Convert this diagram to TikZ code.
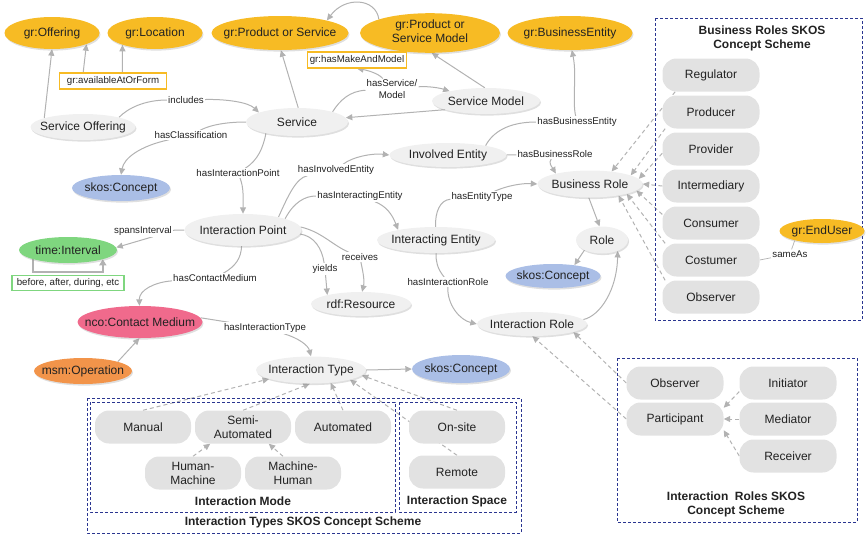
\documentclass[tikz,border=0pt]{standalone}
\usepackage{fontspec}
\setmainfont{Liberation Sans}
\usetikzlibrary{shapes.geometric,arrows.meta,shadows}
\definecolor{gold}{RGB}{247,187,36}
\definecolor{paleg}{RGB}{240,240,240}
\definecolor{pillg}{RGB}{226,226,226}
\definecolor{skosb}{RGB}{170,190,230}
\definecolor{timeg}{RGB}{127,214,127}
\definecolor{ncop}{RGB}{240,106,140}
\definecolor{msmo}{RGB}{242,148,74}
\definecolor{edgeg}{RGB}{178,178,178}
\definecolor{navy}{RGB}{42,53,144}
\definecolor{ink}{RGB}{34,34,34}
% centred text that does not widen an ellipse
\newcommand\nodetext[1]{\makebox[0pt]{#1}}
\pgfdeclarelayer{edges}
\pgfsetlayers{edges,main}
\tikzset{
  ell/.style={ellipse, inner sep=0pt, text=ink, font=\fontsize{12}{14}\selectfont,
    drop shadow={shadow xshift=1pt, shadow yshift=-1.6pt, opacity=0.25}},
  cls/.style={ell, fill=paleg},
  ext/.style={ell, fill=gold},
  pill/.style={rounded corners=14pt, fill=pillg, minimum width=96pt, minimum height=33pt,
    inner sep=0pt, align=center, text=ink, font=\fontsize{12}{14}\selectfont},
  elab/.style={fill=white, inner sep=1pt, text=ink, align=center, font=\fontsize{9.7}{11.5}\selectfont},
  tagbox/.style={draw=#1, line width=1.1pt, fill=white, inner ysep=2.5pt, inner xsep=2pt,
    text=ink, font=\fontsize{9.7}{11.5}\selectfont},
  link/.style={draw=edgeg, line width=1pt},
  arr/.style={link, -{Triangle[length=6.5pt,width=6pt]}},
  darr/.style={arr, dash pattern=on 4pt off 3pt},
  loopl/.style={draw=edgeg, line width=2pt, -{Triangle[length=6pt,width=7pt]}},
  thinl/.style={draw=edgeg, line width=0.7pt},
  scheme/.style={draw=navy, line width=0.8pt, dash pattern=on 3pt off 2pt},
  schemetitle/.style={text=ink, font=\fontsize{12}{14}\bfseries\selectfont, align=center},
}
\begin{document}
\begin{tikzpicture}[x=1pt,y=-1pt]
\useasboundingbox (0,0) rectangle (867,536);

% concept scheme frames
\draw[scheme] (655,18) rectangle (862,320);
\draw[scheme] (87,398) rectangle (521,533);
\draw[scheme] (90,402) rectangle (395,512);
\draw[scheme] (399,402) rectangle (516,512);
\draw[scheme] (617,358) rectangle (857,522);
\node[schemetitle] (t_br) at (762,38) {Business Roles SKOS\\Concept Scheme};
\node[schemetitle] (t_mode) at (243,501) {Interaction Mode};
\node[schemetitle] (t_space) at (457,501) {Interaction Space};
\node[schemetitle] (t_types) at (303,522) {Interaction Types SKOS Concept Scheme};
\node[schemetitle] (t_ir) at (736,504) {Interaction\ \ Roles SKOS\\Concept Scheme};

% external vocabulary classes
\node[ext, minimum width=95pt, minimum height=32pt] (offering) at (52,33) {\nodetext{gr:Offering}};
\node[ext, minimum width=95pt, minimum height=32pt] (location) at (155,33) {\nodetext{gr:Location}};
\node[ext, minimum width=137pt, minimum height=34pt] (pos) at (280,33) {\nodetext{gr:Product or Service}};
\node[ext, minimum width=140pt, minimum height=36pt] (posm) at (430,33)
  {\nodetext{\begin{tabular}{@{}c@{}}gr:Product or\\Service Model\end{tabular}}};
\node[ext, minimum width=125pt, minimum height=34pt] (bent) at (570,33) {\nodetext{gr:BusinessEntity}};
\node[ext, minimum width=85pt, minimum height=24pt] (enduser) at (822,231) {\nodetext{gr:EndUser}};

% property tags
\node[tagbox=gold, minimum width=107pt, minimum height=16pt] (avail) at (113,81) {gr:availableAtOrForm};
\node[tagbox=gold, minimum width=98pt, minimum height=16pt] (hmm) at (357,60) {gr:hasMakeAndModel};
\node[tagbox=timeg, minimum width=112pt, minimum height=15pt] (ba) at (68,283) {before, after, during, etc};

% core classes
\node[cls, minimum width=105pt, minimum height=26pt] (so) at (83,127) {\nodetext{Service Offering}};
\node[cls, minimum width=102pt, minimum height=28pt] (svc) at (297,122) {\nodetext{Service}};
\node[cls, minimum width=108pt, minimum height=26pt] (sm) at (486,101) {\nodetext{Service Model}};
\node[ell, fill=skosb, minimum width=98pt, minimum height=26pt] (skos1) at (121,188) {\nodetext{skos:Concept}};
\node[cls, minimum width=117pt, minimum height=24pt] (ie) at (448,155) {\nodetext{Involved Entity}};
\node[cls, minimum width=105pt, minimum height=27pt] (br) at (590,184) {\nodetext{Business Role}};
\node[cls, minimum width=52pt, minimum height=27pt] (role) at (602,240) {\nodetext{Role}};
\node[ell, fill=skosb, minimum width=95pt, minimum height=24pt] (skos2) at (553,276) {\nodetext{skos:Concept}};
\node[cls, minimum width=110pt, minimum height=24pt] (ir) at (532,324) {\nodetext{Interaction Role}};
\node[cls, minimum width=118pt, minimum height=26pt] (ient) at (436,240) {\nodetext{Interacting Entity}};
\node[cls, minimum width=117pt, minimum height=32pt] (ip) at (243,230) {\nodetext{Interaction Point}};
\node[cls, minimum width=100pt, minimum height=24pt] (rdf) at (361,304) {\nodetext{rdf:Resource}};
\node[ell, fill=timeg, minimum width=98pt, minimum height=26pt] (ti) at (68,250) {\nodetext{time:Interval}};
\node[ell, fill=ncop, minimum width=125pt, minimum height=32pt] (ncm) at (140,322) {\nodetext{nco:Contact Medium}};
\node[ell, fill=msmo, minimum width=98pt, minimum height=26pt] (msm) at (83,371) {\nodetext{msm:Operation}};
\node[cls, minimum width=110pt, minimum height=27pt] (it) at (311,370) {\nodetext{Interaction Type}};
\node[ell, fill=skosb, minimum width=98pt, minimum height=28pt] (skos3) at (461,369) {\nodetext{skos:Concept}};

% business roles scheme
\node[pill, minimum width=97pt] (reg) at (711,75) {Regulator};
\node[pill, minimum width=97pt] (prod) at (711,112) {Producer};
\node[pill, minimum width=97pt] (prov) at (711,149) {Provider};
\node[pill, minimum width=97pt] (inter) at (711,186) {Intermediary};
\node[pill, minimum width=97pt] (cons) at (711,223) {Consumer};
\node[pill, minimum width=97pt] (cost) at (711,260) {Costumer};
\node[pill, minimum width=97pt] (bobs) at (711,297) {Observer};

% interaction types scheme
\node[pill] (manual) at (143,427) {Manual};
\node[pill] (semi) at (243,427) {Semi-\\Automated};
\node[pill] (auto) at (343,427) {Automated};
\node[pill] (hm) at (193,473) {Human-\\Machine};
\node[pill] (mh) at (293,473) {Machine-\\Human};
\node[pill] (onsite) at (457,427) {On-site};
\node[pill] (remote) at (457,472) {Remote};

% interaction roles scheme
\node[pill, minimum width=97pt] (iobs) at (675,383) {Observer};
\node[pill, minimum width=97pt] (ipart) at (675,419) {Participant};
\node[pill, minimum width=97pt] (iinit) at (788,383) {Initiator};
\node[pill, minimum width=97pt] (imed) at (788,419) {Mediator};
\node[pill, minimum width=97pt] (irec) at (788,456) {Receiver};

% property labels
\node[elab] (l_incl) at (186,100) {includes};
\node[elab] (l_cls) at (191,135) {hasClassification};
\node[elab] (l_hip) at (238,173) {hasInteractionPoint};
\node[elab] (l_hsm) at (392,89) {hasService/\\Model};
\node[elab] (l_hbe) at (577,122) {hasBusinessEntity};
\node[elab] (l_hbr) at (555,154) {hasBusinessRole};
\node[elab] (l_hie) at (336,170) {hasInvolvedEntity};
\node[elab] (l_hient) at (360,196) {hasInteractingEntity};
\node[elab] (l_het) at (482,197) {hasEntityType};
\node[elab] (l_hir) at (448,282) {hasInteractionRole};
\node[elab] (l_rcv) at (360,257) {receives};
\node[elab] (l_yld) at (325,269) {yields};
\node[elab] (l_spi) at (143,231) {spansInterval};
\node[elab] (l_hcm) at (215,278) {hasContactMedium};
\node[elab] (l_hit) at (265,328) {hasInteractionType};
\node[elab] (l_same) at (790,254) {sameAs};

\begin{pgfonlayer}{edges}
% GoodRelations links
\draw[arr] (so.167) -- (offering.south);
\draw[arr] (avail.164) -- (offering.-18);
\draw[arr] (avail.42) -- (location.-160);
\draw[arr] (svc.85) -- (pos.-87);
\draw[arr] (posm.165) .. controls (376,-2) and (345,-4) .. (pos.15);
\draw[arr] (sm.95) -- (posm.-85);
\draw[arr] (sm.192) -- (svc.5);

% service properties
\draw[link] (so.15) .. controls (128,108) and (145,100) .. (l_incl);
\draw[arr] (l_incl) .. controls (225,99) and (248,102) .. (svc.166);
\draw[link] (svc.west) .. controls (230,122) and (212,124) .. (l_cls);
\draw[arr] (l_cls) .. controls (140,146) and (124,158) .. (skos1.north);
\draw[link] (svc.-160) .. controls (263,148) and (258,160) .. (l_hip);
\draw[arr] (l_hip) .. controls (244,188) and (243,198) .. (ip.north);
\draw[link] (svc.16) .. controls (340,100) and (350,91) .. (l_hsm);
\draw[arr] (l_hsm) .. controls (428,86) and (440,88) .. (sm.165);
\draw[arr] (l_hsm) .. controls (378,73) and (366,70) .. (hmm.south);

% involved and interacting entities
\draw[link] (ie.14) .. controls (495,128) and (515,122) .. (l_hbe);
\draw[arr] (l_hbe) .. controls (572,100) and (577,75) .. (bent.-84);
\draw[link] (ie.east) -- (l_hbr);
\draw[arr] (l_hbr) .. controls (548,163) and (552,167) .. (br.163);
\draw[arr] (br.-95) -- (role.100);
\draw[arr] (role.-150) -- (skos2.27);
\draw[arr] (ir.5) .. controls (600,316) and (617,290) .. (role.-35);
\draw[link] (ient.92) .. controls (435,212) and (440,200) .. (l_het);
\draw[arr] (l_het) .. controls (506,186) and (522,183) .. (br.west);
\draw[link] (ient.south) .. controls (436,262) and (437,268) .. (l_hir);
\draw[arr] (l_hir) .. controls (447,305) and (460,320) .. (ir.west);

% interaction point properties
\draw[link] (ip.20) .. controls (288,196) and (296,178) .. (l_hie);
\draw[arr] (l_hie) .. controls (352,157) and (372,153) .. (ie.west);
\draw[link] (ip.15) .. controls (294,202) and (305,196) .. (l_hient);
\draw[arr] (l_hient) .. controls (386,206) and (392,214) .. (ient.165);
\draw[link] (ip.3) .. controls (322,232) and (332,245) .. (l_rcv);
\draw[arr] (l_rcv) .. controls (362,268) and (365,280) .. (rdf.85);
\draw[link] (ip.-4) .. controls (314,236) and (322,248) .. (l_yld);
\draw[arr] (l_yld) -- (rdf.165);
\draw[link] (ip.west) -- (l_spi);
\draw[arr] (l_spi.-30) -- (ti.3);
\draw[loopl] (ti.195) -- ++(0,13) -| (ti.-15);
\draw[link] (ip.-95) .. controls (241,258) and (236,266) .. (l_hcm);
\draw[arr] (l_hcm) .. controls (155,282) and (139,290) .. (ncm.92);
\draw[arr] (msm.15) -- (ncm.-92);
\draw[link] (ncm.4) -- (l_hit);
\draw[arr] (l_hit) .. controls (298,338) and (308,345) .. (it.north);
\draw[arr] (it.east) -- (skos3.west);

% interaction types
\draw[darr] (manual.north) -- (it.192);
\draw[darr] (semi.north) -- (it.-95);
\draw[darr] (auto.north) -- (it.-33);
\draw[darr] (remote.north) -- (it.-14);
\draw[darr] (onsite.north) -- (it.-6);
\draw[darr] (hm.north) -- (semi.207);
\draw[darr] (mh.121) -- (semi.-33);

% business roles
\draw[darr] (reg.205) -- (br.30);
\draw[darr] (prod.200) -- (br.12);
\draw[darr] (prov.185) -- (br.6);
\draw[darr] (inter.west) -- (br.east);
\draw[darr] (cons.170) -- (br.-8);
\draw[darr] (cost.160) -- (br.-15);
\draw[darr] (bobs.160) -- (br.-22);
\draw[thinl] (cost.east) -- (l_same);
\draw[thinl] (l_same) -- (enduser.199);

% interaction roles
\draw[darr] (iobs.west) -- (ir.-11);
\draw[darr] (ipart.west) -- (ir.-88);
\draw[darr] (iinit.190) -- (ipart.13);
\draw[darr] (imed.west) -- (ipart.east);
\draw[darr] (irec.west) -- (ipart.-13);
\end{pgfonlayer}
\end{tikzpicture}
\end{document}
